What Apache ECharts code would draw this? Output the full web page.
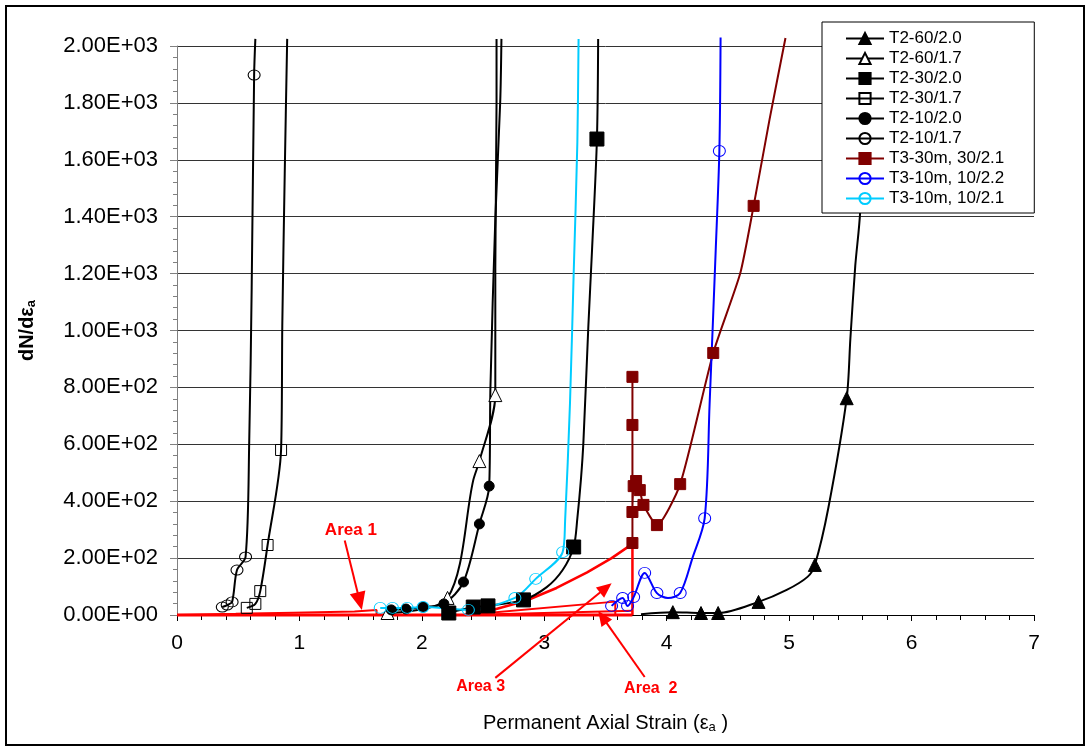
<!DOCTYPE html>
<html>
<head>
<meta charset="utf-8">
<title>dN/dεa vs Permanent Axial Strain</title>
<script src="https://cdn.jsdelivr.net/npm/echarts@6/dist/echarts.min.js"></script>
<style>
  html, body { margin: 0; padding: 0; background: #fff; }
  #chart { width: 1091px; height: 751px; }
</style>
</head>
<body>
<div id="chart"></div>
<script>
// Each point: [strain, dN/dεa, measured]; measured = 1 gets a marker,
// measured = 0 is a point on the fitted curve only.
const T2_60_20 = [[3.79,3,0],[4.05,10,1],[4.28,7,1],[4.42,7,1],[4.75,46,1],[4.98,88,0],[5.15,134,0],[5.21,176,1],[5.32,376,0],[5.47,762,1],[5.50,970,0],[5.54,1227,0],[5.58,1417,0],[5.63,2025,0]];
const T2_60_17 = [[1.72,7,1],[2.21,60,1],[2.42,474,0],[2.47,541,1],[2.60,773,1],[2.60,1216,0],[2.61,1803,0],[2.61,2025,0]];
const T2_30_20 = [[2.22,7,1],[2.42,28,1],[2.54,32,1],[2.83,53,1],[3.02,98,0],[3.15,158,0],[3.24,239,1],[3.27,340,0],[3.30,480,0],[3.32,612,0],[3.36,1016,0],[3.39,1283,0],[3.43,1673,1],[3.44,2025,0]];
const T2_30_17 = [[0.57,25,1],[0.64,39,1],[0.68,84,1],[0.74,246,1],[0.85,580,1],[0.86,1016,0],[0.88,1553,0],[0.90,2025,0]];
const T2_10_20 = [[1.75,18,1],[1.87,21,1],[2.01,28,1],[2.18,39,1],[2.34,116,1],[2.47,320,1],[2.55,453,1],[2.56,798,0],[2.60,1392,0],[2.64,1803,0],[2.65,2025,0]];
const T2_10_17 = [[0.37,28,1],[0.41,35,1],[0.45,46,1],[0.49,158,1],[0.56,204,1],[0.59,612,0],[0.61,1149,0],[0.63,1898,1],[0.64,2025,0]];
const T3_30M_30_21 = [[3.72,837,1],[3.72,668,1],[3.72,253,1],[3.72,362,1],[3.73,453,1],[3.75,471,1],[3.78,439,1],[3.81,387,1],[3.92,316,1],[4.11,460,1],[4.38,921,1],[4.60,1200,0],[4.71,1438,1],[4.84,1742,0],[4.97,2028,0]];
const T3_10M_10_22 = [[3.55,32,1],[3.64,60,1],[3.68,32,1],[3.73,63,1],[3.82,148,1],[3.92,77,1],[4.01,60,0],[4.11,77,1],[4.21,200,0],[4.31,340,1],[4.35,738,0],[4.40,1280,0],[4.43,1631,1],[4.44,2030,0]];
const T3_10M_10_21 = [[1.66,25,1],[1.76,25,1],[1.88,25,1],[2.01,28,1],[2.38,18,1],[2.76,60,1],[2.93,127,1],[3.15,221,1],[3.17,330,0],[3.21,745,0],[3.24,1200,0],[3.27,1660,0],[3.28,2025,0]];

const SERIES_NAMES = ['T2-60/2.0','T2-60/1.7','T2-30/2.0','T2-30/1.7','T2-10/2.0','T2-10/1.7','T3-30m, 30/2.1','T3-10m, 10/2.2','T3-10m, 10/2.1'];

// Shaded-area outlines (strain, dN/dεa)
const AREA_BASE = [[0,0],[3.72,0]];
const AREA_1 = [[0,0],[0,4],[0.48,4],[0.48,8],[0.95,8],[0.95,12],[1.45,12],[1.45,18],[1.63,18],[1.63,0]];
const AREA_2 = [[2.35,0],[3.58,47],[3.58,0]];
const AREA_2B = [[2.35,0],[3.72,15]];
const AREA_3 = [[2.35,0],[2.6,20],[2.85,50],[3.1,95],[3.35,150],[3.55,200],[3.72,250],[3.72,0]];

// Callouts: label text, label anchor, arrow tail, arrow tip (data units)
const CALLOUT_TEXT = ['Area 1', 'Area 3', 'Area  2'];
const CALLOUT_AT   = [[1.42,299], [2.48,-253], [3.87,-257]];
const CALLOUT_FROM = [[1.37,262], [2.60,-221], [3.82,-218]];
const CALLOUT_TO   = [[1.51,18],  [3.55,112],  [3.44,14]];

const X_MIN = 0, X_MAX = 7, X_STEP = 1;
const Y_MIN = 0, Y_MAX = 2000, Y_STEP = 200;

const FONT = "'Liberation Sans', Arial, sans-serif";

function sci(v) {
  if (v === 0) return '0.00E+00';
  const e = Math.floor(Math.log10(Math.abs(v)) + 1e-9);
  const m = v / Math.pow(10, e);
  return m.toFixed(2) + 'E' + (e < 0 ? '-' : '+') + String(Math.abs(e)).padStart(2, '0');
}

function toData(pts) {
  return pts.map(p => p[2] ? [p[0], p[1]] : { value: [p[0], p[1]], symbol: 'none' });
}

const CLEAR = 'rgba(0,0,0,0)';
function curve(name, pts, color, symbol, size, fill, smooth) {
  return {
    name: name,
    type: 'line',
    data: toData(pts),
    smooth: smooth,
    clip: false,
    symbol: symbol,
    symbolSize: size,
    showSymbol: true,
    lineStyle: { color: color, width: 2 },
    itemStyle: { color: fill, borderColor: color, borderWidth: 1 },
    emphasis: { disabled: true },
    z: 3
  };
}

function outline(pts, width) {
  return {
    type: 'line',
    data: pts,
    symbol: 'none',
    clip: false,
    silent: true,
    lineStyle: { color: '#ff0000', width: width },
    emphasis: { disabled: true },
    z: 2
  };
}

const chart = echarts.init(document.getElementById('chart'), null, { renderer: 'canvas' });

chart.setOption({
  animation: false,
  backgroundColor: '#fff',
  textStyle: { fontFamily: FONT },
  grid: { left: 177, right: 57, top: 46, bottom: 136, containLabel: false },
  legend: {
    orient: 'vertical',
    left: 822,
    top: 22,
    itemWidth: 38,
    itemHeight: 14,
    itemGap: 3,
    padding: [8, 30, 6, 23],
    backgroundColor: '#fff',
    borderColor: '#000',
    borderWidth: 1,
    borderRadius: 0,
    textStyle: { fontSize: 17, color: '#000', fontFamily: FONT },
    data: SERIES_NAMES,
    selectedMode: false
  },
  xAxis: {
    type: 'value',
    min: X_MIN, max: X_MAX, interval: X_STEP,
    name: 'Permanent Axial Strain (ε{s|a} )',
    nameLocation: 'middle',
    nameGap: 98,
    nameTextStyle: { fontSize: 20, color: '#000', fontFamily: FONT,
      rich: { s: { fontSize: 13, color: '#000', padding: [8, 0, 0, 0], fontFamily: FONT } } },
    axisLine: { lineStyle: { color: '#000', width: 1 } },
    axisTick: { length: 6, lineStyle: { color: '#000' } },
    minorTick: { show: true, splitNumber: 5, length: 5, lineStyle: { color: '#000' } },
    splitLine: { show: false },
    axisLabel: { fontSize: 21, color: '#000', margin: 18, fontFamily: FONT }
  },
  yAxis: {
    type: 'value',
    min: Y_MIN, max: Y_MAX, interval: Y_STEP,
    name: 'dN/dε{s|a}',
    nameLocation: 'middle',
    nameRotate: 90,
    nameGap: 139,
    nameTextStyle: { fontSize: 20, fontWeight: 'bold', color: '#000', fontFamily: FONT,
      rich: { s: { fontSize: 13, fontWeight: 'bold', color: '#000', padding: [8, 0, 0, 0], fontFamily: FONT } } },
    axisLine: { show: true, lineStyle: { color: '#808080', width: 1 } },
    axisTick: { show: true, length: 7, lineStyle: { color: '#808080' } },
    minorTick: { show: true, splitNumber: 5, length: 4, lineStyle: { color: '#808080' } },
    splitLine: { show: true, lineStyle: { color: '#333', width: 1 } },
    axisLabel: { fontSize: 22, color: '#000', margin: 19, formatter: sci, fontFamily: FONT }
  },
  series: [
    outline(AREA_BASE, 3),
    outline(AREA_1, 2),
    outline(AREA_2, 2),
    outline(AREA_2B, 2),
    outline(AREA_3, 2.5),
    curve(SERIES_NAMES[0], T2_60_20, '#000', 'triangle', 13, '#000', 0.3),
    curve(SERIES_NAMES[1], T2_60_17, '#000', 'triangle', 13, '#fff', 0.3),
    curve(SERIES_NAMES[2], T2_30_20, '#000', 'rect', 14, '#000', 0.3),
    curve(SERIES_NAMES[3], T2_30_17, '#000', 'rect', 11, CLEAR, 0.3),
    curve(SERIES_NAMES[4], T2_10_20, '#000', 'circle', 10, '#000', 0.3),
    curve(SERIES_NAMES[5], T2_10_17, '#000', 'circle', [12, 10], CLEAR, 0.3),
    curve(SERIES_NAMES[6], T3_30M_30_21, '#800000', 'rect', 11, '#800000', 0.2),
    curve(SERIES_NAMES[7], T3_10M_10_22, '#0000ff', 'circle', [12, 11], CLEAR, 0.3),
    curve(SERIES_NAMES[8], T3_10M_10_21, '#00ccff', 'circle', [12, 11], CLEAR, 0.3)
  ]
});

// Callout arrows and labels, placed through the grid's own coordinate mapping
function px(p) { return chart.convertToPixel({ gridIndex: 0 }, p); }

function arrow(from, to, len, half) {
  const a = px(from), b = px(to);
  const dx = b[0] - a[0], dy = b[1] - a[1];
  const d = Math.hypot(dx, dy), ux = dx / d, uy = dy / d;
  const base = [b[0] - ux * len, b[1] - uy * len];
  const l = [base[0] - uy * half, base[1] + ux * half];
  const r = [base[0] + uy * half, base[1] - ux * half];
  return [
    { type: 'line', shape: { x1: a[0], y1: a[1], x2: base[0] + ux * 2, y2: base[1] + uy * 2 },
      style: { stroke: '#ff0000', lineWidth: 2 }, z: 20, silent: true },
    { type: 'polygon', shape: { points: [b, l, r] }, style: { fill: '#ff0000' }, z: 20, silent: true }
  ];
}

const graphics = [];
CALLOUT_TEXT.forEach((t, i) => {
  const big = i === 0;
  arrow(CALLOUT_FROM[i], CALLOUT_TO[i], big ? 18 : 15, big ? 8 : 6.5).forEach(g => graphics.push(g));
  const c = px(CALLOUT_AT[i]);
  graphics.push({
    type: 'text', x: c[0], y: c[1], z: 21, silent: true,
    style: {
      text: t, fill: '#ff0000', fontWeight: 'bold',
      fontSize: big ? 17 : 16,
      fontFamily: big ? FONT : "'Liberation Sans Narrow', 'Arial Narrow', " + FONT,
      align: 'center', verticalAlign: 'middle'
    }
  });
});
// outer frame
graphics.push({
  type: 'rect', z: 30, silent: true,
  shape: { x: 6, y: 6, width: 1078, height: 739 },
  style: { fill: 'none', stroke: '#000', lineWidth: 2 }
});

chart.setOption({ graphic: graphics });
</script>
</body>
</html>
